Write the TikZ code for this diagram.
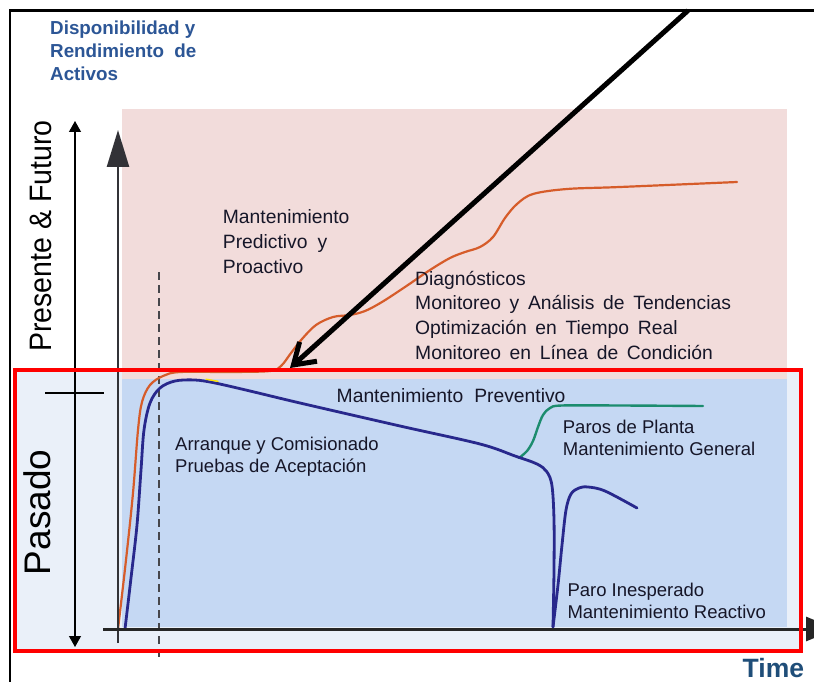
\documentclass[tikz,border=0pt]{standalone}
\usepackage{fontspec}
\setmainfont{Liberation Sans}
\usetikzlibrary{arrows.meta}

\definecolor{pinkbg}{RGB}{242,220,219}
\definecolor{bluebg}{RGB}{197,216,243}
\definecolor{lightbg}{RGB}{234,240,249}
\definecolor{navyln}{RGB}{40,40,140}
\definecolor{orangeln}{RGB}{214,92,42}
\definecolor{greenln}{RGB}{28,140,110}
\definecolor{txt}{RGB}{22,22,40}
\definecolor{titleblue}{RGB}{44,86,150}
\definecolor{timeblue}{RGB}{31,78,121}
\definecolor{axisgray}{RGB}{50,50,55}

\newcommand\widerspaces{\spaceskip=0.45em plus 0.1em\relax}

% multi-line labels are placed by the baseline of their last line
\tikzset{
  lbl/.style={anchor=base west, inner sep=0pt, align=left, text=txt},
  upper/.style={lbl, font=\fontsize{19.3}{24.8}\selectfont\widerspaces},
  lower/.style={lbl, font=\fontsize{18.5}{22.5}\selectfont},
  curve/.style={line cap=round, line join=round},
}

\begin{document}
\begin{tikzpicture}[x=1pt,y=-1pt]
\useasboundingbox (0,0) rectangle (814,682);
\fill[white] (0,0) rectangle (814,682);

% panels: past (blue) and present/future (pink)
\fill[lightbg] (15,370) rectangle (800,651);
\fill[pinkbg] (122,109) rectangle (787,379);
\fill[bluebg] (122,379) rectangle (787,627);

% commissioning marker
\coordinate (dashT) at (159,272);
\coordinate (dashB) at (159,660);
\draw[axisgray!90, line width=2pt, dash pattern=on 8pt off 5pt] (dashT) -- (dashB);

% outer frame
\draw[line width=2.7pt] (10,690) -- (10,10.5) -- (820,10.5);

% curves
\draw[orangeln, line width=2.2pt, curve] plot[smooth, tension=0.55] coordinates {
  (118,629) (126,560) (133,493) (138,430) (142,402) (150,385) (163,376) (180,372)
  (230,372) (270,371) (281,366) (291,353) (302,339) (316,325) (333,317) (350,315)
  (365,311) (382,302) (405,287) (430,270) (450,258) (465,252) (480,247) (493,237)
  (505,218) (517,204) (533,194) (567,189) (620,187) (737,182)};

\draw[greenln, line width=2.4pt, curve] plot[smooth, tension=0.55] coordinates {
  (519,458) (527,451) (533,441) (538,427) (543,415) (550,408) (562,405.5) (620,405.5) (703,406)};

\draw[navyln, line width=2.8pt, curve] plot[smooth, tension=0.55] coordinates {
  (125,629) (131,578) (137,525) (141,470) (144,430) (150,403) (160,388) (175,381)
  (195,380) (215,383) (250,391) (300,403) (400,426) (480,444) (515,456) (537,464)
  (547,472) (552,486) (554,520) (554,570) (553,627)};
\draw[navyln, line width=2.8pt, curve] plot[smooth, tension=0.55] coordinates {
  (553,627) (558,585) (562,545) (566,510) (571,494) (579,488) (588,487) (605,491) (637,508)};
\draw[yellow!85!orange, line width=1.4pt, line cap=round] (206,379.2) -- (218,381.3);

% axes
\coordinate (yBot) at (118,643);
\coordinate (yTop) at (118,130);
\draw[axisgray, line width=2.5pt, -{Triangle[length=37pt,width=22pt]}] (yBot) -- (yTop);
\coordinate (xLeft) at (103,629);
\coordinate (xRight) at (836,629);
\draw[black!85, line width=3pt, -{Triangle[length=30pt,width=24pt]}] (xLeft) -- (xRight);

% period arrows on the left
\coordinate (split) at (75,393);
\coordinate (futTop) at (75,121);
\coordinate (pastBot) at (75,647);
\coordinate (tickL) at (45,393);
\coordinate (tickR) at (104,393);
\draw[line width=1.2pt, -{Triangle[length=11pt,width=12pt]}] (split) -- (futTop);
\draw[line width=1.2pt, -{Triangle[length=11pt,width=12pt]}] (split) -- (pastBot);
\draw[line width=1.2pt] (tickL) -- (tickR);

% past region frame
\draw[red, line width=4pt] (15.3,370) rectangle (800.5,651);

% labels
\node[anchor=base west, inner sep=0pt, align=left, text=titleblue,
      font=\fontsize{18.8}{23}\selectfont\bfseries] (title) at (50,80.5)
  {Disponibilidad y\\Rendimiento\ \ de\\Activos};

\node[rotate=90, anchor=base, inner sep=0pt, text=black,
      font=\fontsize{31}{31}\selectfont] (future) at (51.7,236)
  {\scalebox{0.92}[1]{Presente \& Futuro}};
\node[rotate=90, anchor=base, inner sep=0pt, text=black,
      font=\fontsize{37}{37}\selectfont] (past) at (50,512.5) {Pasado};

\node[upper] (predictive) at (222.7,273.3) {Mantenimiento\\Predictivo\hspace{10pt}y\\Proactivo};
\node[upper] (diagnostics) at (415,359.5)
  {Diagnósticos\\Monitoreo y Análisis de Tendencias\\Optimización en Tiempo Real\\Monitoreo en Línea de Condición};
\node[upper] (preventive) at (336.5,402) {Mantenimiento\hspace{11pt}Preventivo};
\node[lower] (startup) at (175,472.5) {Arranque y Comisionado\\Pruebas de Aceptación};
\node[lower] (shutdown) at (562.7,455.5) {Paros de Planta\\Mantenimiento General};
\node[lower] (failure) at (567.3,618.5) {Paro Inesperado\\Mantenimiento Reactivo};

\node[anchor=base west, inner sep=0pt, text=timeblue,
      font=\fontsize{26.5}{26.5}\selectfont\bfseries] (time) at (742.5,677) {Time};

% shift toward predictive maintenance
\coordinate (shiftStart) at (688,10.5);
\coordinate (shiftEnd) at (290,368);
\draw[line width=5pt, -{Straight Barb[length=20pt,width=26pt]}] (shiftStart) -- (shiftEnd);
\end{tikzpicture}
\end{document}
